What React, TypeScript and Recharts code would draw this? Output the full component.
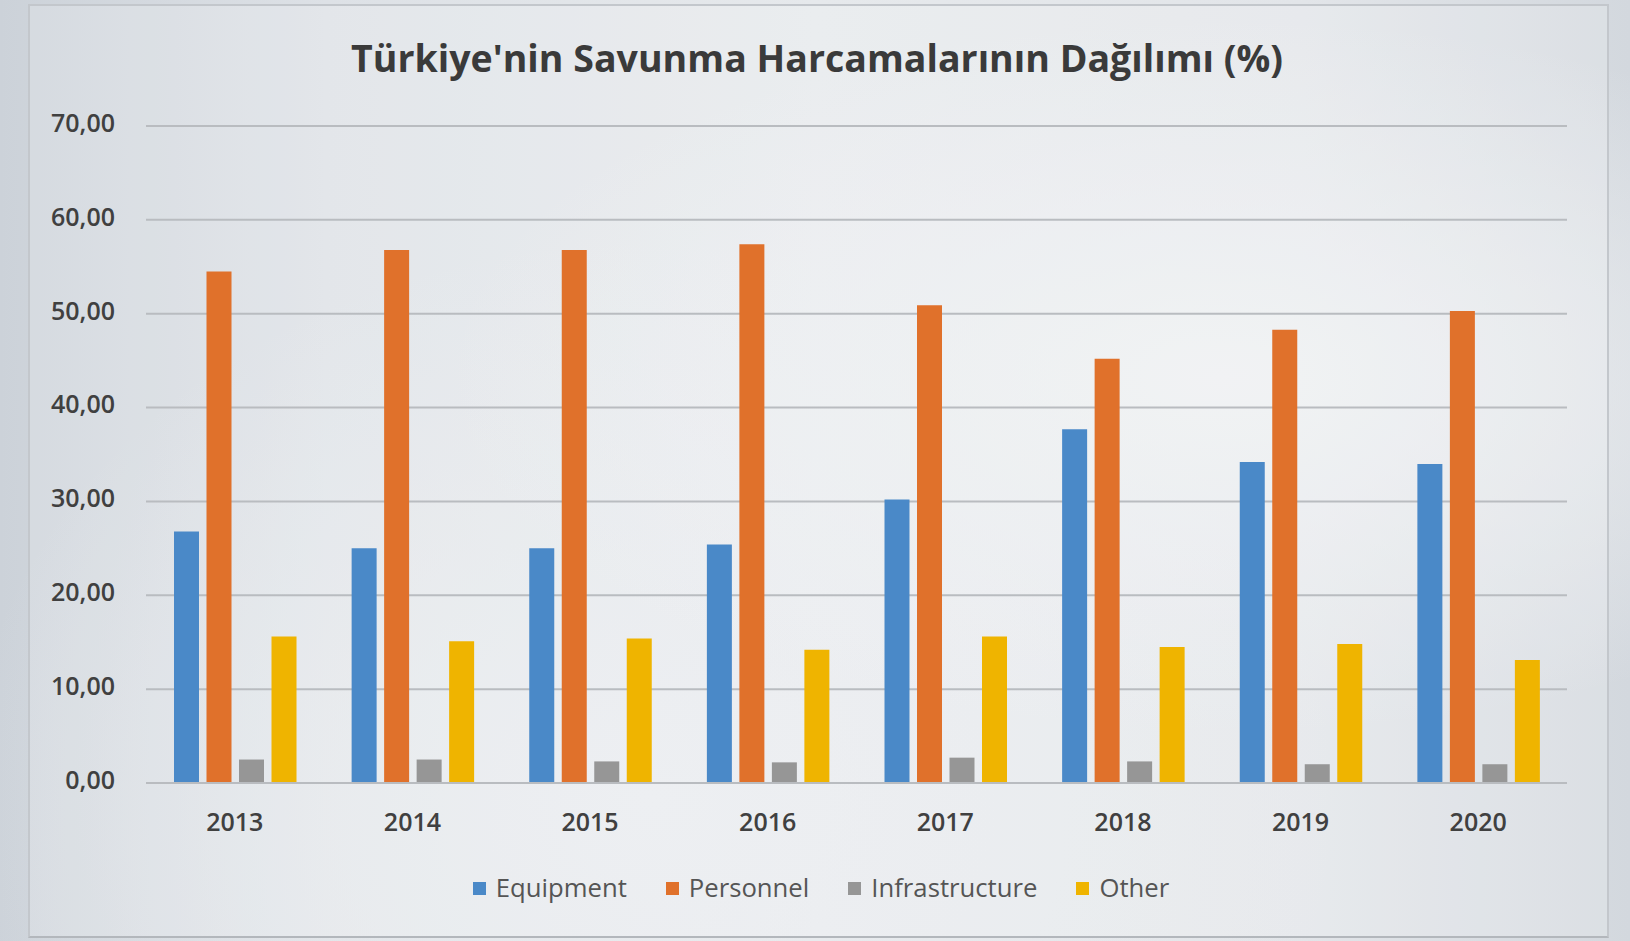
import React from "react";
import { BarChart, Bar, XAxis, YAxis, CartesianGrid } from "recharts";

const years = ["2013", "2014", "2015", "2016", "2017", "2018", "2019", "2020"];
const equipment = [26.8, 25.0, 25.0, 25.4, 30.2, 37.7, 34.2, 34.0];
const personnel = [54.5, 56.8, 56.8, 57.4, 50.9, 45.2, 48.3, 50.3];
const infrastructure = [2.5, 2.5, 2.3, 2.2, 2.7, 2.3, 2.0, 2.0];
const other = [15.6, 15.1, 15.4, 14.2, 15.6, 14.5, 14.8, 13.1];
const yTicks = [0, 10, 20, 30, 40, 50, 60, 70];

const seriesNames = ["Equipment", "Personnel", "Infrastructure", "Other"];
const seriesKeys = ["equipment", "personnel", "infrastructure", "other"];
const seriesColors = ["#4a89c8", "#e0712b", "#969696", "#efb400"];

const title = "Türkiye'nin Savunma Harcamalarının Dağılımı (%)";

const data = years.map((y, i) => ({
  year: y,
  equipment: equipment[i],
  personnel: personnel[i],
  infrastructure: infrastructure[i],
  other: other[i],
}));

const FONT = "'Open Sans', 'DejaVu Sans', sans-serif";

export default function App() {
  return (
    <div
      style={{
        position: "absolute",
        left: 0,
        top: 0,
        width: 1630,
        height: 941,
        overflow: "hidden",
        background:
          "radial-gradient(ellipse at 75% 40%, #eef0f2 0%, rgba(238,240,242,0) 45%), radial-gradient(ellipse at 40% 85%, #e9ecef 0%, rgba(233,236,239,0) 50%), linear-gradient(90deg, #ccd2d9 0%, #dde1e6 20%, #e6e9ec 50%, #e2e5e9 80%, #d3d8de 100%)",
        fontFamily: FONT,
      }}
    >
      <div
        style={{
          position: "absolute",
          left: 28,
          top: 4,
          width: 1577,
          height: 930,
          border: "2px solid #c3c7cc",
          borderBottomColor: "#b3b7bc",
          background: "rgba(255,255,255,0.18)",
        }}
      />
      <svg
        width={1630}
        height={110}
        style={{ position: "absolute", left: 0, top: 0 }}
      >
        <text
          x={351}
          y={72}
          textLength={932}
          lengthAdjust="spacingAndGlyphs"
          fill="#3a3a3a"
          fontFamily={FONT}
          fontWeight={700}
          fontSize={38}
        >
          {title}
        </text>
      </svg>
      <div style={{ position: "absolute", left: 0, top: 0 }}>
        <BarChart
          width={1630}
          height={941}
          data={data}
          margin={{ top: 126, right: 63, bottom: 98, left: 0 }}
          barSize={25}
          barGap={7.5}
        >
          <CartesianGrid
            vertical={false}
            stroke="#b9bcc0"
            strokeWidth={2}
          />
          <XAxis
            dataKey="year"
            axisLine={{ stroke: "#b9bcc0", strokeWidth: 2 }}
            tickLine={false}
            tickSize={0}
            tickMargin={30}
            height={60}
            tick={{ fill: "#404040", fontSize: 25, fontWeight: 600, fontFamily: FONT }}
          />
          <YAxis
            width={146}
            domain={[0, 70]}
            ticks={yTicks}
            axisLine={false}
            tickLine={false}
            tickSize={0}
            tickMargin={31}
            tickFormatter={(v: number) => v.toFixed(2).replace(".", ",")}
            tick={{ fill: "#404040", fontSize: 25, fontWeight: 600, fontFamily: FONT, dy: -3 }}
          />
          {seriesKeys.map((k, i) => (
            <Bar
              key={k}
              dataKey={k}
              name={seriesNames[i]}
              fill={seriesColors[i]}
              isAnimationActive={false}
            />
          ))}
        </BarChart>
      </div>
      <div
        style={{
          position: "absolute",
          left: 6,
          top: 872,
          width: 1630,
          display: "flex",
          justifyContent: "center",
          alignItems: "center",
          gap: 39,
        }}
      >
        {seriesNames.map((n, i) => (
          <div key={n} style={{ display: "flex", alignItems: "center" }}>
            <div
              style={{
                width: 13,
                height: 13,
                background: seriesColors[i],
                marginRight: 10,
              }}
            />
            <span style={{ fontSize: 25.7, color: "#555", fontFamily: FONT, lineHeight: "32px" }}>
              {n}
            </span>
          </div>
        ))}
      </div>
    </div>
  );
}
